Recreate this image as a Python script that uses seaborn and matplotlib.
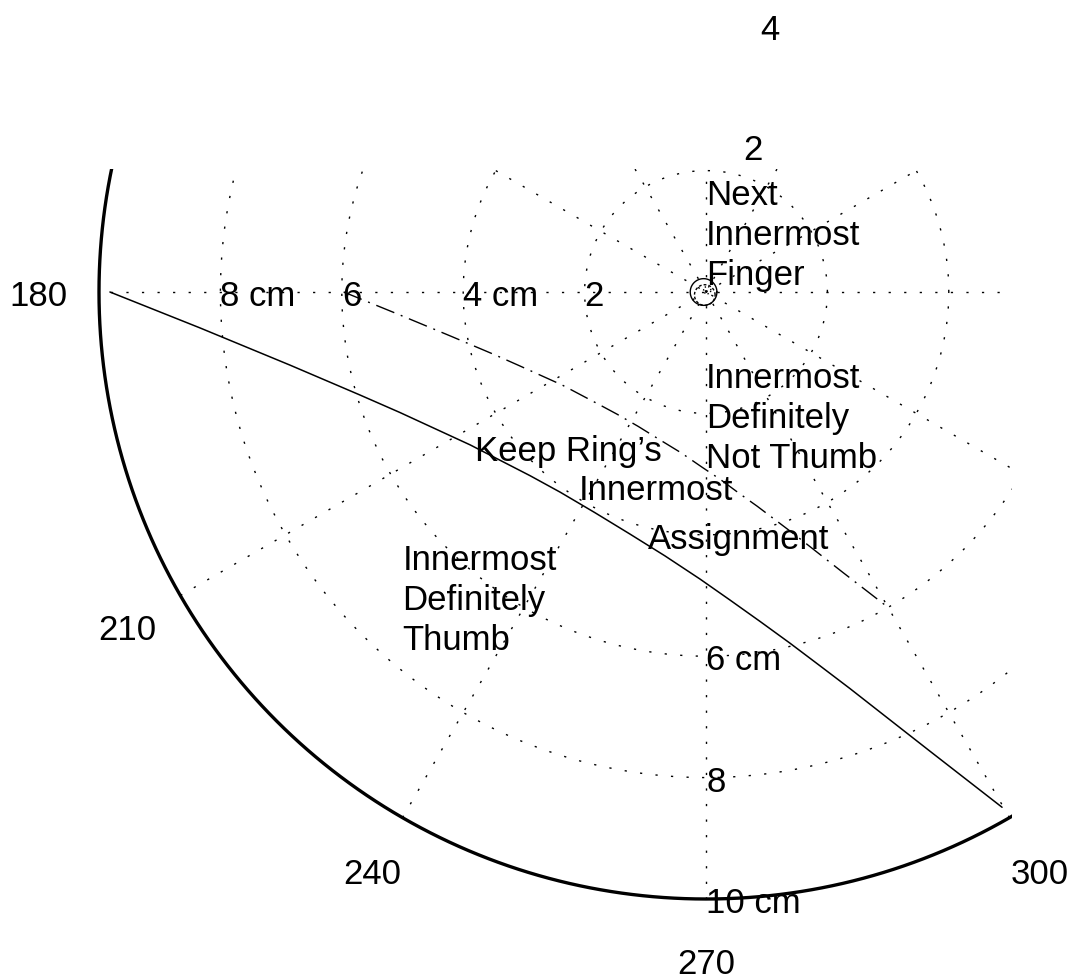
import numpy as np
import pandas as pd
import matplotlib
matplotlib.use("Agg")
import matplotlib.pyplot as plt
import seaborn as sns

# outer boundary curve (solid), angle in degrees, radius in cm
outer_theta = [180, 184.05, 189.96, 196.56, 201.48, 212.96, 226.25, 233.93,
               243.28, 252.56, 261.17, 268.80, 274.45, 279.32, 283.46,
               286.97, 289.95, 296.01, 299.88]
outer_r = [9.82, 8.36, 6.96, 5.95, 5.42, 4.63, 4.19, 4.08,
           4.07, 4.18, 4.40, 4.73, 5.09, 5.50, 5.95,
           6.44, 6.95, 8.42, 9.79]

# inner boundary curve (dash-dot)
inner_theta = [180, 184.05, 189.96, 196.56, 201.48, 212.96, 226.25, 233.93,
               243.28, 252.56, 261.17, 268.80, 274.45, 279.32, 283.46,
               286.97, 289.95, 296.01, 300.0]
inner_r = [5.97, 5.10, 4.25, 3.63, 3.31, 2.82, 2.56, 2.49,
           2.48, 2.55, 2.68, 2.89, 3.10, 3.36, 3.63,
           3.93, 4.24, 5.14, 6.00]

# little finger rings at the centre (x, y, radius in cm)
dot_x = [-0.04, -0.02, 0.02]
dot_y = [0.0, -0.05, 0.03]
dot_rad = [0.22, 0.17, 0.06]

# region notes
notes = ["Next\nInnermost\nFinger", "Innermost\nDefinitely\nNot Thumb",
         "Keep Ring\u2019s", "Innermost", "Assignment",
         "Innermost\nDefinitely\nThumb"]
note_x = [0, 0, -3.8, -2.1, -0.95, -5]
note_y = [1, -2, -2.55, -3.2, -4.0, -5]

# distance labels along the axes
hlabels = ["8 cm", "6", "4 cm", "2"]
hlabel_x = [-8, -6, -4, -2]
vlabels = ["6 cm", "8", "10 cm"]
vlabel_y = [-6, -8, -10]

rmax = 10
rinc = 2

sns.set_theme(style="white")
plt.rcParams['font.family'] = ['Liberation Sans', 'DejaVu Sans']
plt.rcParams['text.color'] = 'black'
FS = 25

W, H = 1076, 979
cx, cy, scale = 706, 293, 60.7
xlo, xhi, ylo, yhi = -10.3, 5.04, -10.3, 2.03

fig = plt.figure(figsize=(W / 100, H / 100), dpi=100)
left = (cx + xlo * scale) / W
right = (cx + xhi * scale) / W
top = 1 - (cy - yhi * scale) / H
bottom = 1 - (cy - ylo * scale) / H
ax = fig.add_axes([left, bottom, right - left, top - bottom])
ax.set_xlim(xlo, xhi)
ax.set_ylim(ylo, yhi)
ax.axis("off")


def on_canvas(x, y):
    px, py = cx + x * scale, cy - y * scale
    return 0 < px < W and 0 < py < H


dotted = (0, (1.6, 9.6))
t = np.linspace(0, 2 * np.pi, 721)
# rings
for r in range(rinc, rmax, rinc):
    ax.plot(r * np.cos(t), r * np.sin(t), color="black", lw=1.0, ls=dotted)
ax.plot(rmax * np.cos(t), rmax * np.sin(t), color="black", lw=2.4)
# spokes
for a in range(30, 181, 30):
    c, s = np.cos(np.radians(a)), np.sin(np.radians(a))
    ax.plot([-rmax * c, rmax * c], [-rmax * s, rmax * s], color="black",
            lw=1.0, ls=dotted)

# angle labels
for a in range(0, 360, 30):
    rt = 1.1 * rmax
    x, y = rt * np.cos(np.radians(a)), rt * np.sin(np.radians(a))
    if on_canvas(x, y):
        ax.text(x, y - 0.06, str(a), ha="center", va="center", fontsize=FS)
# radius labels at 82 degrees
c82, s82 = np.cos(np.radians(82)), np.sin(np.radians(82))
for i in range(rinc, rmax + 1, rinc):
    rr = i + rinc / 20
    x, y = rr * c82 + 0.32, rr * s82
    if on_canvas(x, y + 0.5):
        ax.text(x, y, str(i), ha="left", va="bottom", fontsize=FS)

# curves
outer = pd.DataFrame({"x": np.array(outer_r) * np.cos(np.radians(outer_theta)),
                      "y": np.array(outer_r) * np.sin(np.radians(outer_theta))})
inner = pd.DataFrame({"x": np.array(inner_r) * np.cos(np.radians(inner_theta)),
                      "y": np.array(inner_r) * np.sin(np.radians(inner_theta))})
sns.lineplot(data=outer, x="x", y="y", sort=False, color="black", lw=1.1, ax=ax)
sns.lineplot(data=inner, x="x", y="y", sort=False, color="black", lw=1.0, ax=ax)
ax.lines[-1].set_linestyle((0, (14, 5, 1.4, 5)))

for x0, y0, rad, st in zip(dot_x, dot_y, dot_rad, ["-", (0, (2, 1.5)), (0, (1, 1.5))]):
    ax.plot(x0 + rad * np.cos(t), y0 + rad * np.sin(t), color="black", lw=1.0, ls=st)

# text helper: lines 40 px apart, block centred on the anchor like MATLAB
step = 40 / scale


def put(txt, x, y):
    lines = txt.split("\n")
    n = len(lines)
    for k, ln in enumerate(lines):
        ax.text(x, y + ((n - 1) / 2 - k) * step - 0.06, ln, ha="left",
                va="center", fontsize=FS)


for txt, x, y in zip(notes, note_x, note_y):
    put(txt, x, y)
for txt, x in zip(hlabels, hlabel_x):
    put(txt, x, 0)
for txt, y in zip(vlabels, vlabel_y):
    put(txt, 0, y)

fig.savefig("out.png", dpi=100)
